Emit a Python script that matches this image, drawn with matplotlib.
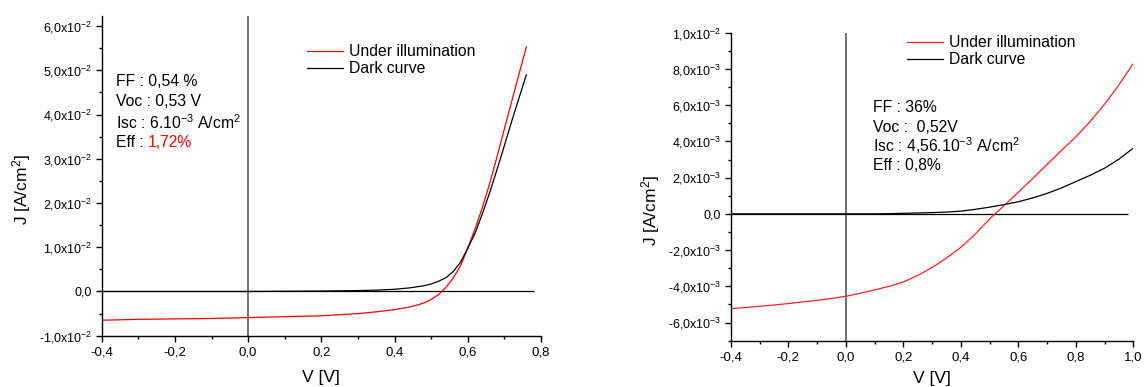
import matplotlib
matplotlib.use("Agg")
import matplotlib.pyplot as plt
from matplotlib.ticker import MultipleLocator, FuncFormatter

plt.rcParams["font.family"] = ["Liberation Sans", "DejaVu Sans"]
plt.rcParams["mathtext.fontset"] = "custom"
plt.rcParams["mathtext.rm"] = "Liberation Sans"
plt.rcParams["mathtext.it"] = "Liberation Sans:italic"
plt.rcParams["mathtext.bf"] = "Liberation Sans:bold"

# ---- left panel data ----
left_v_light = [-0.40, -0.30, -0.20, -0.10, 0.00, 0.10, 0.20, 0.30, 0.35, 0.40, 0.43, 0.46,
                0.48, 0.50, 0.52, 0.54, 0.56, 0.58, 0.60, 0.62, 0.64, 0.66, 0.68, 0.70,
                0.72, 0.74, 0.76]
left_j_light = [-0.0065, -0.0063, -0.0062, -0.0061, -0.0059, -0.0057, -0.0055, -0.0050,
                -0.0046, -0.0041, -0.0037, -0.0031, -0.0026, -0.0018, -0.0007, 0.0009,
                0.0030, 0.0058, 0.0098, 0.0142, 0.0190, 0.0245, 0.0305, 0.0368, 0.0430,
                0.0492, 0.0553]
left_v_dark = [-0.40, -0.20, 0.00, 0.20, 0.30, 0.35, 0.40, 0.44, 0.48, 0.50, 0.52, 0.54,
               0.56, 0.58, 0.60, 0.62, 0.64, 0.66, 0.68, 0.70, 0.72, 0.74, 0.76]
left_j_dark = [0.0, 0.0, 0.0, 0.0001, 0.0002, 0.0003, 0.0005, 0.0008, 0.0013, 0.0017,
               0.0023, 0.0031, 0.0045, 0.0066, 0.0098, 0.0132, 0.0176, 0.0224, 0.0276,
               0.0330, 0.0385, 0.0438, 0.0490]
left_zero_line = (-0.40, 0.78)
left_text = ["FF : 0,54 %", "Voc : 0,53 V", r"Isc : 6.10$^{\mathrm{-3}}$ A/cm$^{\mathrm{2}}$"]
left_eff = ("Eff : ", "1,72%")

# ---- right panel data ----
right_v_light = [-0.40, -0.35, -0.30, -0.25, -0.20, -0.15, -0.10, -0.05, 0.00, 0.05, 0.10,
                 0.15, 0.20, 0.25, 0.30, 0.35, 0.40, 0.45, 0.50, 0.55, 0.60, 0.65, 0.70,
                 0.75, 0.80, 0.85, 0.90, 0.95, 1.00]
right_j_light = [-5.23e-3, -5.17e-3, -5.10e-3, -5.03e-3, -4.95e-3, -4.86e-3, -4.77e-3,
                 -4.67e-3, -4.55e-3, -4.38e-3, -4.20e-3, -4.00e-3, -3.76e-3, -3.40e-3,
                 -2.96e-3, -2.44e-3, -1.85e-3, -1.12e-3, -0.28e-3, 0.45e-3, 1.19e-3,
                 1.95e-3, 2.73e-3, 3.50e-3, 4.25e-3, 5.10e-3, 6.05e-3, 7.12e-3, 8.30e-3]
right_v_dark = [-0.40, -0.20, 0.00, 0.10, 0.15, 0.20, 0.25, 0.30, 0.35, 0.40, 0.45, 0.50,
                0.55, 0.60, 0.65, 0.70, 0.75, 0.80, 0.85, 0.90, 0.95, 1.00]
right_j_dark = [0.0, 0.0, 0.0, 0.0, 0.01e-3, 0.03e-3, 0.05e-3, 0.07e-3, 0.10e-3, 0.15e-3,
                0.25e-3, 0.37e-3, 0.51e-3, 0.67e-3, 0.88e-3, 1.13e-3, 1.43e-3, 1.78e-3,
                2.13e-3, 2.52e-3, 3.02e-3, 3.63e-3]
right_zero_line = (-0.40, 0.98)
right_text = ["FF : 36%", "Voc :  0,52V", r"Isc : 4,56.10$^{\mathrm{-3}}$ A/cm$^{\mathrm{2}}$",
              "Eff : 0,8%"]

labels = ["Under illumination", "Dark curve"]

W, H = 1145, 387
fig = plt.figure(figsize=(W / 100, H / 100), dpi=100)


def fx(px):
    return px / W


def fy(py):
    return 1 - py / H


def axes_px(x0, y0, x1, y1):
    return fig.add_axes([fx(x0), fy(y1), fx(x1) - fx(x0), fy(y0) - fy(y1)])


def left_fmt(v, pos):
    if abs(v) < 1e-9:
        return "0,0"
    return f"{v / 1e-2:.1f}".replace(".", ",") + r"x10$^{\mathrm{-2}}$"


def right_fmt(v, pos):
    if abs(v) < 1e-9:
        return "0,0"
    if abs(v - 1e-2) < 1e-9:
        return r"1,0x10$^{\mathrm{-2}}$"
    return f"{v / 1e-3:.1f}".replace(".", ",") + r"x10$^{\mathrm{-3}}$"


def style(ax, xlim, ylim, ymaj, ymin, fmt):
    ax.set_xlim(*xlim)
    ax.set_ylim(*ylim)
    for s in ["top", "right"]:
        ax.spines[s].set_visible(False)
    for s in ["left", "bottom"]:
        ax.spines[s].set_linewidth(1.0)
    ax.xaxis.set_major_locator(MultipleLocator(0.2))
    ax.xaxis.set_minor_locator(MultipleLocator(0.1))
    ax.yaxis.set_major_locator(MultipleLocator(ymaj))
    ax.yaxis.set_minor_locator(MultipleLocator(ymin))
    ax.xaxis.set_major_formatter(FuncFormatter(lambda v, p: f"{v:.1f}".replace(".", ",")))
    ax.yaxis.set_major_formatter(FuncFormatter(fmt))
    ax.tick_params(which="major", direction="out", length=4, width=1.0)
    ax.tick_params(which="minor", direction="out", length=2.5, width=1.0)
    ax.tick_params(axis="x", labelsize=9.5, pad=4)
    ax.tick_params(axis="y", labelsize=9, pad=3)
    ax.set_xlabel("V [V]", fontsize=12.5)
    ax.set_ylabel(r"J [A/cm$^{\mathrm{2}}$]", fontsize=12.5)


legend_kw = dict(loc="upper left", bbox_transform=fig.transFigure, frameon=False,
                 fontsize=11.3, handlelength=2.3, handletextpad=0.4, labelspacing=0.15,
                 borderpad=0, borderaxespad=0)

# ---- left panel ----
ax1 = axes_px(101.7, 16, 541, 335.7)
style(ax1, (-0.4, 0.8), (-0.01, 0.0623), 0.01, 0.005, left_fmt)
ax1.axvline(0, color="#707070", lw=1.4, zorder=1)
ax1.hlines(0, *left_zero_line, color="black", lw=0.9, zorder=1)
ax1.plot(left_v_light, left_j_light, color="red", lw=0.9, label=labels[0])
ax1.plot(left_v_dark, left_j_dark, color="black", lw=0.9, label=labels[1])
ax1.xaxis.set_label_coords(0.499, -0.107)
ax1.yaxis.set_label_coords(-0.156, 0.456)
ax1.legend(bbox_to_anchor=(fx(307), fy(44)), **legend_kw)

for txt, py in zip(left_text, [81.5, 101, 123]):
    fig.text(fx(116), fy(py), txt, fontsize=11.3, va="center", ha="left")
t_eff = fig.text(fx(116), fy(142.5), left_eff[0], fontsize=11.3, va="center", ha="left")
ax1.annotate(left_eff[1], xy=(1, 0), xycoords=t_eff, va="bottom", ha="left",
             fontsize=11.3, color="red", annotation_clip=False)

# ---- right panel ----
ax2 = axes_px(730.8, 32.7, 1133.3, 340.7)
style(ax2, (-0.4, 1.0), (-7e-3, 1e-2), 2e-3, 1e-3, right_fmt)
ax2.axvline(0, color="#707070", lw=1.4, zorder=1)
ax2.hlines(0, *right_zero_line, color="black", lw=0.9, zorder=1)
ax2.plot(right_v_light, right_j_light, color="#ff2020", lw=0.9, label=labels[0])
ax2.plot(right_v_dark, right_j_dark, color="black", lw=0.9, label=labels[1])
ax2.xaxis.set_label_coords(0.5, -0.100)
ax2.yaxis.set_label_coords(-0.171, 0.424)
ax2.legend(bbox_to_anchor=(fx(907), fy(35)), **legend_kw)

for txt, py in zip(right_text, [108, 127, 146, 165]):
    fig.text(fx(873), fy(py), txt, fontsize=11.3, va="center", ha="left")

fig.savefig("out.png", dpi=100)
